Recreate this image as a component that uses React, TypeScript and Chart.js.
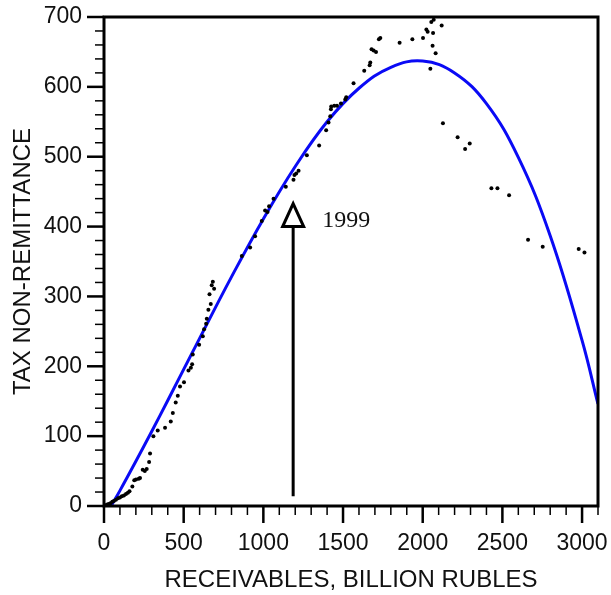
import React, { useEffect, useRef } from 'react';
import { Chart, registerables } from 'chart.js';

Chart.register(...registerables);

// Observations: receivables (billion rubles) vs. tax non-remittance
const RECEIVABLES = [
  5, 12, 20, 30, 40, 52, 62, 75, 88, 100, 112, 125, 138, 150, 160,
  178, 190, 201, 218, 226, 243, 256, 268, 283, 289, 310, 337, 383, 419, 432,
  450, 463, 477, 502, 530, 545, 553, 557, 597, 620, 628, 641, 645, 655, 670,
  662, 691, 676, 683, 865, 917, 948, 990, 1011, 1026, 1036, 1064, 1141, 1189, 1195,
  1206, 1221, 1273, 1350, 1394, 1409, 1420, 1424, 1426, 1445, 1462, 1487, 1514, 1520, 1566,
  1633, 1667, 1671, 1679, 1692, 1707, 1725, 1734, 1855, 1935, 2002, 2023, 2031, 2054, 2069,
  2065, 2062, 2081, 2048, 2119, 2127, 2219, 2266, 2295, 2431, 2469, 2542, 2661, 2753, 2979,
  3015,
];
const NON_REMITTANCE = [
  0, 1, 2, 3, 4, 6, 7, 9, 11, 12, 14, 15, 17, 19, 21,
  28, 37, 38, 39, 40, 52, 50, 53, 63, 75, 100, 108, 112, 121, 133,
  148, 158, 171, 177, 194, 198, 203, 217, 231, 243, 253, 261, 268, 281, 289,
  303, 311, 316, 321, 358, 370, 386, 408, 423, 421, 429, 440, 457, 467, 474,
  476, 480, 502, 516, 538, 549, 558, 568, 572, 573, 573, 576, 582, 585, 605,
  623, 631, 635, 654, 652, 650, 668, 670, 663, 668, 670, 682, 679, 693, 696,
  677, 659, 648, 626, 688, 548, 528, 511, 519, 455, 455, 445, 381, 371, 368,
  363,
];

// Fitted trend curve
const FIT_X = [45, 100, 200, 300, 400, 600, 800, 1000, 1200, 1400, 1600, 1800, 2000, 2200, 2400, 2600, 2800, 3000, 3100];
const FIT_Y = [0, 22, 64, 107, 151, 240, 328, 411, 486, 550, 598, 628, 637, 620, 576, 499, 387, 237, 146];

const X_TICKS = [0, 500, 1000, 1500, 2000, 2500, 3000];
const Y_TICKS = [0, 100, 200, 300, 400, 500, 600, 700];
const X_MINOR_STEP = 100;
const Y_MINOR_STEP = 20;

// Annotation: arrow marking 1999
const ARROW_LABEL = '1999';
const ARROW_X = 1187;
const ARROW_FROM = 14;
const ARROW_TIP = 433;
const LABEL_X = 1369;
const LABEL_Y = 408;

const SANS = '"Liberation Sans", Arial, Helvetica, sans-serif';
const SERIF = '"Liberation Serif", "Times New Roman", serif';

const framePlugin = {
  id: 'frameAndAnnotations',
  afterDatasetsDraw(chart: any) {
    const { ctx, chartArea } = chart;
    const xs = chart.scales.x;
    const ys = chart.scales.y;
    const { left, right, top, bottom } = chartArea;
    ctx.save();

    // arrow shaft and hollow head
    const ax = xs.getPixelForValue(ARROW_X);
    const tipY = ys.getPixelForValue(ARROW_TIP);
    const baseY = tipY + 23;
    ctx.strokeStyle = '#000';
    ctx.lineWidth = 3;
    ctx.beginPath();
    ctx.moveTo(ax, ys.getPixelForValue(ARROW_FROM));
    ctx.lineTo(ax, baseY);
    ctx.stroke();
    ctx.beginPath();
    ctx.moveTo(ax, tipY);
    ctx.lineTo(ax + 10.5, baseY);
    ctx.lineTo(ax - 10.5, baseY);
    ctx.closePath();
    ctx.fillStyle = '#fff';
    ctx.fill();
    ctx.lineJoin = 'miter';
    ctx.stroke();

    ctx.fillStyle = '#111';
    ctx.font = `24px ${SERIF}`;
    ctx.textAlign = 'left';
    ctx.textBaseline = 'middle';
    ctx.fillText(ARROW_LABEL, xs.getPixelForValue(LABEL_X), ys.getPixelForValue(LABEL_Y));

    // tick marks
    ctx.strokeStyle = '#000';
    for (let v = 0; v <= xs.max + 0.001; v += X_MINOR_STEP) {
      const major = X_TICKS.includes(v);
      const px = xs.getPixelForValue(v);
      ctx.lineWidth = major ? 2.5 : 1.5;
      ctx.beginPath();
      ctx.moveTo(px, bottom);
      ctx.lineTo(px, bottom + (major ? 17 : 9));
      ctx.stroke();
    }
    for (let v = 0; v <= ys.max + 0.001; v += Y_MINOR_STEP) {
      const major = Y_TICKS.includes(v);
      const py = ys.getPixelForValue(v);
      ctx.lineWidth = major ? 2.5 : 1.5;
      ctx.beginPath();
      ctx.moveTo(left, py);
      ctx.lineTo(left - (major ? 17 : 9), py);
      ctx.stroke();
    }

    // plot frame
    ctx.lineWidth = 3;
    ctx.strokeRect(left, top, right - left, bottom - top);
    ctx.restore();
  },
};

export default function App() {
  const canvasRef = useRef<HTMLCanvasElement | null>(null);

  useEffect(() => {
    document.body.style.margin = '0';
    const canvas = canvasRef.current;
    if (!canvas) return;

    const chart = new Chart(canvas, {
      type: 'scatter',
      data: {
        datasets: [
          {
            type: 'line',
            label: 'fit',
            data: FIT_X.map((x, i) => ({ x, y: FIT_Y[i] })),
            borderColor: '#0a0af5',
            borderWidth: 3,
            pointRadius: 0,
            tension: 0.4,
            fill: false,
            order: 2,
          },
          {
            type: 'scatter',
            label: 'observations',
            data: RECEIVABLES.map((x, i) => ({ x, y: NON_REMITTANCE[i] })),
            backgroundColor: '#000',
            borderWidth: 0,
            pointRadius: 2,
            order: 1,
          },
        ],
      },
      options: {
        responsive: false,
        animation: false,
        devicePixelRatio: 1,
        layout: { padding: { left: 0, right: 13, top: 17, bottom: 0 } },
        plugins: {
          legend: { display: false },
          tooltip: { enabled: false },
        },
        scales: {
          x: {
            type: 'linear',
            min: 0,
            max: 3100,
            afterBuildTicks: (scale: any) => {
              scale.ticks = X_TICKS.map((value) => ({ value }));
            },
            afterFit: (scale: any) => {
              scale.height = 89;
              scale.paddingLeft = 0;
              scale.paddingRight = 0;
            },
            grid: { display: false, drawTicks: false },
            border: { display: false },
            ticks: {
              padding: 24,
              color: '#111',
              font: { family: SANS, size: 23 },
              maxRotation: 0,
              callback: (v: any) => String(v),
            },
            title: {
              display: true,
              text: 'RECEIVABLES, BILLION RUBLES',
              color: '#111',
              font: { family: SANS, size: 24 },
              padding: { top: 0, bottom: 0 },
            },
          },
          y: {
            type: 'linear',
            min: 0,
            max: 700,
            afterBuildTicks: (scale: any) => {
              scale.ticks = Y_TICKS.map((value) => ({ value }));
            },
            afterFit: (scale: any) => {
              scale.width = 104;
              scale.paddingTop = 0;
              scale.paddingBottom = 0;
            },
            grid: { display: false, drawTicks: false },
            border: { display: false },
            ticks: {
              padding: 22,
              color: '#111',
              font: { family: SANS, size: 23 },
              callback: (v: any) => String(v),
            },
            title: {
              display: true,
              text: 'TAX NON-REMITTANCE',
              color: '#111',
              font: { family: SANS, size: 24 },
              padding: { top: 9, bottom: 0 },
            },
          },
        },
      },
      plugins: [framePlugin],
    });

    return () => chart.destroy();
  }, []);

  return (
    <div style={{ width: 611, height: 595 }}>
      <canvas ref={canvasRef} width={611} height={595} style={{ width: 611, height: 595, display: 'block' }} />
    </div>
  );
}
